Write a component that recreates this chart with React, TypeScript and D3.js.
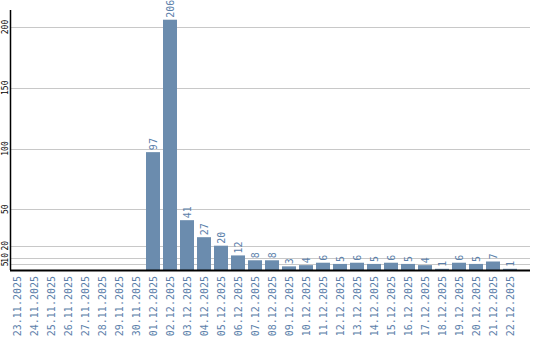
import React from "react";
import * as d3 from "d3";

const categories = [
  "23.11.2025","24.11.2025","25.11.2025","26.11.2025","27.11.2025","28.11.2025","29.11.2025","30.11.2025",
  "01.12.2025","02.12.2025","03.12.2025","04.12.2025","05.12.2025","06.12.2025","07.12.2025","08.12.2025",
  "09.12.2025","10.12.2025","11.12.2025","12.12.2025","13.12.2025","14.12.2025","15.12.2025","16.12.2025",
  "17.12.2025","18.12.2025","19.12.2025","20.12.2025","21.12.2025","22.12.2025",
];
const values = [0,0,0,0,0,0,0,0,97,206,41,27,20,12,8,8,3,4,6,5,6,5,6,5,4,1,6,5,7,1];
const yTicks = [5, 10, 20, 50, 100, 150, 200];

export default function App() {
  const W = 540, H = 340;
  const left = 10, right = 530, top = 10, bottom = 270;
  const x = d3.scaleBand<string>().domain(categories).range([8.5, 8.5 + 17 * categories.length]).paddingInner(3 / 17).paddingOuter(1.5 / 17);
  const y = d3.scaleLinear().domain([0, 200]).range([bottom, 27]);
  const blue = "#6b8cae";
  const textBlue = "#5b80aa";
  return (
    <svg width={W} height={H} style={{ position: "absolute", left: 0, top: 0 }}>
      <rect width={W} height={H} fill="#fff" />
      {yTicks.map((t) => (
        <g key={t}>
          <line x1={left} x2={right} y1={Math.round(y(t)) + 0.5} y2={Math.round(y(t)) + 0.5} stroke="#c8c8c8" strokeWidth={1} />
          <text transform={`translate(8,${y(t)}) rotate(-90)`} textAnchor="middle" fontFamily="DejaVu Sans Mono" fontSize={8} fill="#000">{t}</text>
        </g>
      ))}
      {values.map((v, i) => {
        const c = categories[i];
        const bx = x(c)!;
        const bw = x.bandwidth();
        return (
          <g key={c}>
            {v > 0 && <rect x={bx} y={y(v)} width={bw} height={bottom - y(v)} fill={blue} />}
            {v > 0 && (
              <text transform={`translate(${bx + bw / 2 + 4},${y(v) - 2}) rotate(-90)`} fontFamily="DejaVu Sans Mono" fontSize={10} fill={textBlue}>{v}</text>
            )}
            <text transform={`translate(${bx + bw / 2 + 4},276) rotate(-90)`} textAnchor="end" fontFamily="DejaVu Sans Mono" fontSize={10} fill={textBlue}>{c}</text>
          </g>
        );
      })}
      <line x1={left + 0.5} x2={left + 0.5} y1={top} y2={bottom} stroke="#000" strokeWidth={1.5} />
      <line x1={left} x2={right} y1={bottom + 0.5} y2={bottom + 0.5} stroke="#000" strokeWidth={2} />
    </svg>
  );
}
